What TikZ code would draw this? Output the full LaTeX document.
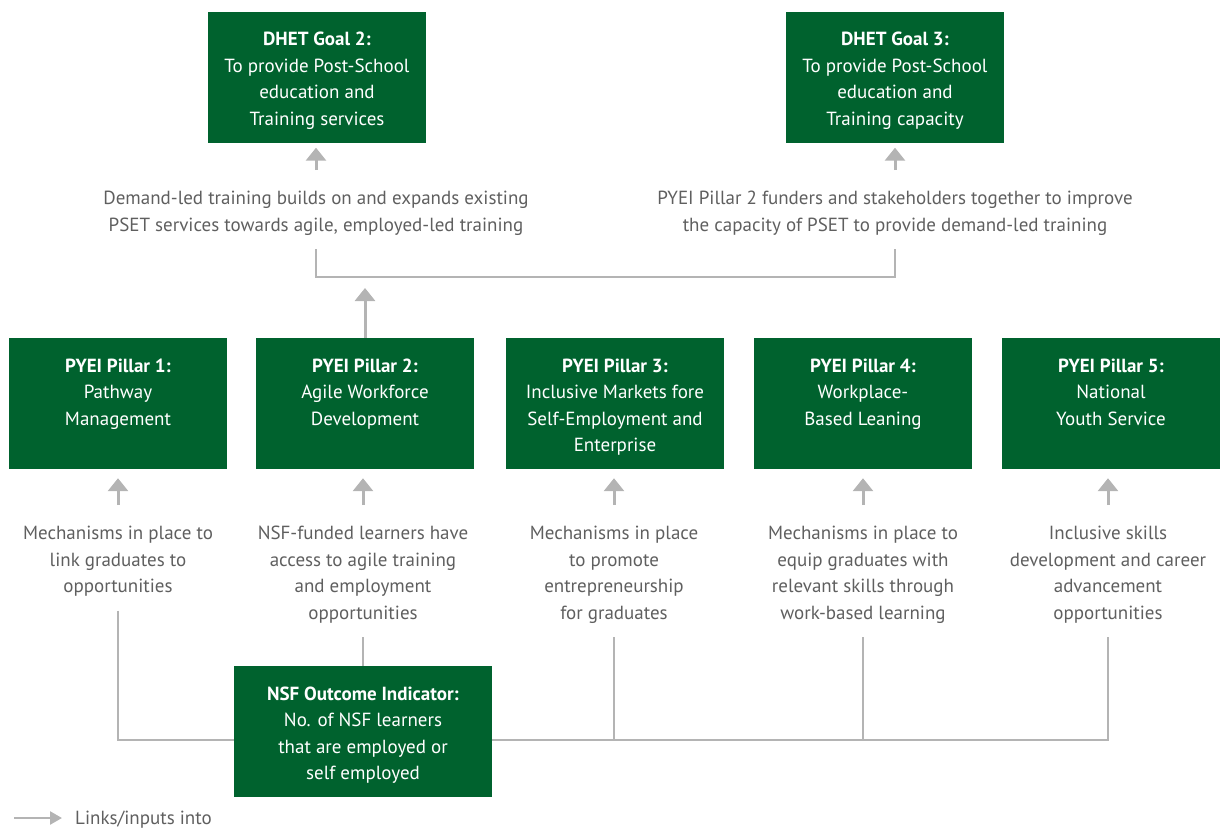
\documentclass[tikz,border=0pt]{standalone}
\usepackage{fontspec}
\setmainfont{PT Sans}
\usetikzlibrary{arrows.meta}

\definecolor{boxgreen}{RGB}{0,98,46}
\definecolor{linkgrey}{RGB}{180,180,180}
\definecolor{notegrey}{RGB}{95,95,95}

\newcommand{\boxfont}{\fontsize{19}{26.5}\selectfont}
\newcommand{\boxtext}[2]{\parbox[c][131pt][t]{214pt}{\centering\rule{0pt}{34pt}\textbf{#1}\\#2}}

\begin{document}
\begin{tikzpicture}[x=1pt,y=-1pt]
    \tikzstyle{greenbox} = [fill=boxgreen,text=white,inner sep=0pt,minimum width=218pt,minimum height=131pt,font=\boxfont]
    \tikzstyle{note} = [text=notegrey,align=center,inner sep=0pt,anchor=north,font=\boxfont]
    \tikzstyle{link} = [draw=linkgrey,line width=3pt,-{Triangle[width=20pt,length=13pt]}]
    \tikzstyle{wire} = [draw=linkgrey,line width=2.5pt]
    \useasboundingbox (0,0) rectangle (1221,828);
        % goals
        \node[greenbox] (g2) at (317,77) {\boxtext{DHET Goal 2:}{To provide Post-School\\ education and\\ Training services}};
        \node[greenbox] (g3) at (895,77) {\boxtext{DHET Goal 3:}{To provide Post-School\\ education and\\ Training capacity}};
        \node[note] (d2) at (316,191) {Demand-led training builds on and expands existing\\ PSET services towards agile, employed-led training};
        \node[note] (d3) at (895,191) {PYEI Pillar 2 funders and stakeholders together to improve\\ the capacity of PSET to provide demand-led training};
        \draw[link] ([yshift=21pt]d2.north) -- ([yshift=-5pt]g2.south -| d2.north);
        \draw[link] ([yshift=21pt]d3.north) -- ([yshift=-5pt]g3.south -| d3.north);
        \coordinate (join) at (365,277);
        \draw[wire] ([yshift=-14pt]d2.south) -- (d2.south |- join) -- (d3.south |- join) -- ([yshift=-14pt]d3.south);
        % pillars
        \node[greenbox] (p1) at (118,403.5) {\boxtext{PYEI Pillar 1:}{Pathway\\ Management}};
        \node[greenbox] (p2) at (365,403.5) {\boxtext{PYEI Pillar 2:}{Agile Workforce\\ Development}};
        \node[greenbox] (p3) at (615,403.5) {\boxtext{PYEI Pillar 3:}{Inclusive Markets fore\\ Self-Employment and\\ Enterprise}};
        \node[greenbox] (p4) at (863,403.5) {\boxtext{PYEI Pillar 4:}{Workplace-\\ Based Leaning}};
        \node[greenbox] (p5) at (1111,403.5) {\boxtext{PYEI Pillar 5:}{National\\ Youth Service}};
        \draw[link] (p2.north) -- ([yshift=-11pt]join);
        % outputs
        \node[note] (n1) at (118,526) {Mechanisms in place to\\ link graduates to\\ opportunities};
        \node[note] (n2) at (363,526) {NSF-funded learners have\\ access to agile training\\ and employment\\ opportunities};
        \node[note] (n3) at (614,526) {Mechanisms in place\\ to promote\\ entrepreneurship\\ for graduates};
        \node[note] (n4) at (863,526) {Mechanisms in place to\\ equip graduates with\\ relevant skills through\\ work-based learning};
        \node[note] (n5) at (1108,526) {Inclusive skills\\ development and career\\ advancement\\ opportunities};
        \draw[link] ([yshift=21pt]n1.north) -- ([yshift=-9pt]p1.south -| n1.north);
        \draw[link] ([yshift=21pt]n2.north) -- ([yshift=-9pt]p2.south -| n2.north);
        \draw[link] ([yshift=21pt]n3.north) -- ([yshift=-9pt]p3.south -| n3.north);
        \draw[link] ([yshift=21pt]n4.north) -- ([yshift=-9pt]p4.south -| n4.north);
        \draw[link] ([yshift=21pt]n5.north) -- ([yshift=-9pt]p5.south -| n5.north);
        % indicator
        \coordinate (bus) at (614,740);
        \draw[wire] ([yshift=-14pt]n1.south) -- (n1.south |- bus) -- (n5.south |- bus) -- ([yshift=-14pt]n5.south);
        \draw[wire] ([yshift=-14pt]n3.south) -- (n3.south |- bus);
        \draw[wire] ([yshift=-14pt]n4.south) -- (n4.south |- bus);
        \node[greenbox,minimum width=258pt] (nsf) at (363,731.5) {\boxtext{NSF Outcome Indicator:}{No. of NSF learners\\ that are employed or\\ self employed}};
        \draw[wire] ([yshift=-14pt]n2.south) -- (nsf.north);
        % legend
        \coordinate (lg) at (14,818);
        \node[anchor=west,text=notegrey,inner sep=0pt,font=\boxfont] (legend) at (75,820) {Links/inputs into};
        \draw[draw=linkgrey,line width=2.5pt,-{Triangle[width=13pt,length=12pt]}] (lg) -- ([xshift=-13pt]legend.west |- lg);
\end{tikzpicture}
\end{document}
